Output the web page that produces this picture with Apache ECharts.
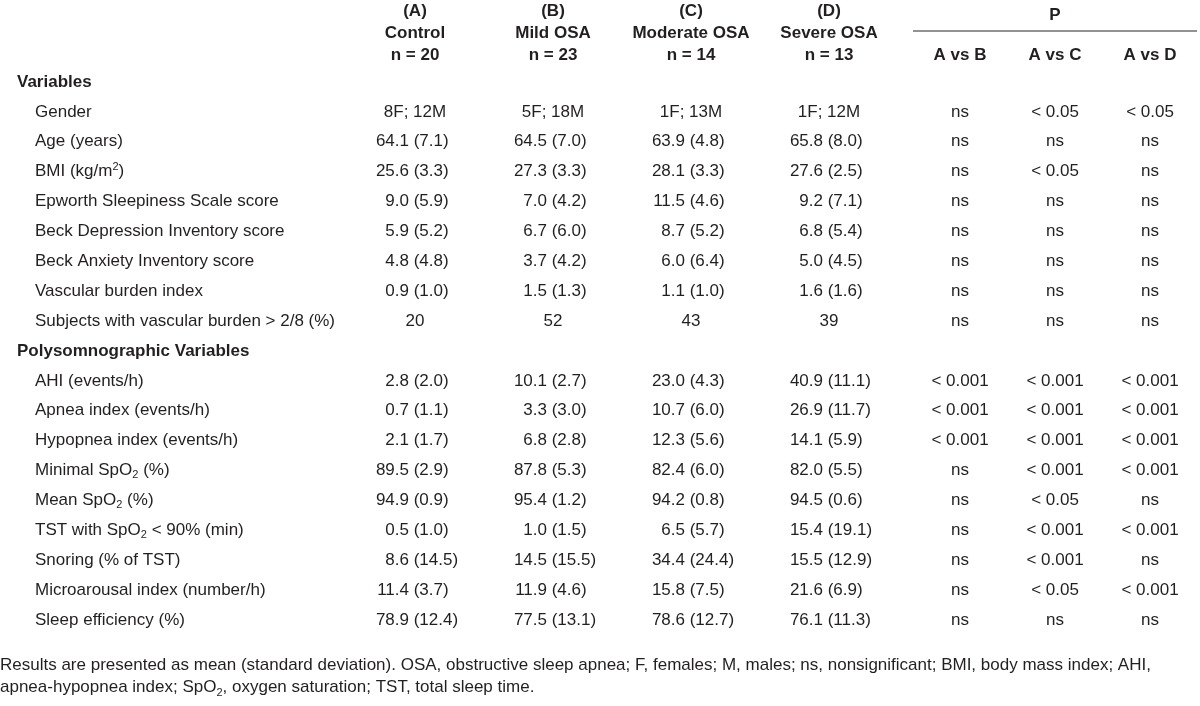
<!DOCTYPE html>
<html>
<head>
<meta charset="utf-8">
<script src="https://cdn.jsdelivr.net/npm/echarts@6/dist/echarts.min.js"></script>
<style>
html,body{margin:0;padding:0;background:#fff;}
#chart{width:1200px;height:706px;}
</style>
</head>
<body>
<div id="chart"></div>
<script>
// ---------- DATA ----------
const groupLetters = ['(A)', '(B)', '(C)', '(D)'];
const groupNames = ['Control', 'Mild OSA', 'Moderate OSA', 'Severe OSA'];
const groupSizes = ['n = 20', 'n = 23', 'n = 14', 'n = 13'];
const pTitle = 'P';
const pComparisons = ['A vs B', 'A vs C', 'A vs D'];

const sectionTitles = ['Variables', 'Polysomnographic Variables'];
const generalVariables = [
  'Gender', 'Age (years)', 'BMI (kg/m{sup|2})', 'Epworth Sleepiness Scale score',
  'Beck Depression Inventory score', 'Beck Anxiety Inventory score',
  'Vascular burden index', 'Subjects with vascular burden > 2/8 (%)'
];
const polyVariables = [
  'AHI (events/h)', 'Apnea index (events/h)', 'Hypopnea index (events/h)',
  'Minimal SpO{sub|2} (%)', 'Mean SpO{sub|2} (%)', 'TST with SpO{sub|2} < 90% (min)',
  'Snoring (% of TST)', 'Microarousal index (number/h)', 'Sleep efficiency (%)'
];

const controlValues = ['8F; 12M', '64.1 (7.1)', '25.6 (3.3)', '9.0 (5.9)', '5.9 (5.2)', '4.8 (4.8)', '0.9 (1.0)', '20',
  '2.8 (2.0)', '0.7 (1.1)', '2.1 (1.7)', '89.5 (2.9)', '94.9 (0.9)', '0.5 (1.0)', '8.6 (14.5)', '11.4 (3.7)', '78.9 (12.4)'];
const mildValues = ['5F; 18M', '64.5 (7.0)', '27.3 (3.3)', '7.0 (4.2)', '6.7 (6.0)', '3.7 (4.2)', '1.5 (1.3)', '52',
  '10.1 (2.7)', '3.3 (3.0)', '6.8 (2.8)', '87.8 (5.3)', '95.4 (1.2)', '1.0 (1.5)', '14.5 (15.5)', '11.9 (4.6)', '77.5 (13.1)'];
const moderateValues = ['1F; 13M', '63.9 (4.8)', '28.1 (3.3)', '11.5 (4.6)', '8.7 (5.2)', '6.0 (6.4)', '1.1 (1.0)', '43',
  '23.0 (4.3)', '10.7 (6.0)', '12.3 (5.6)', '82.4 (6.0)', '94.2 (0.8)', '6.5 (5.7)', '34.4 (24.4)', '15.8 (7.5)', '78.6 (12.7)'];
const severeValues = ['1F; 12M', '65.8 (8.0)', '27.6 (2.5)', '9.2 (7.1)', '6.8 (5.4)', '5.0 (4.5)', '1.6 (1.6)', '39',
  '40.9 (11.1)', '26.9 (11.7)', '14.1 (5.9)', '82.0 (5.5)', '94.5 (0.6)', '15.4 (19.1)', '15.5 (12.9)', '21.6 (6.9)', '76.1 (11.3)'];
const pAvsB = ['ns', 'ns', 'ns', 'ns', 'ns', 'ns', 'ns', 'ns',
  '< 0.001', '< 0.001', '< 0.001', 'ns', 'ns', 'ns', 'ns', 'ns', 'ns'];
const pAvsC = ['< 0.05', 'ns', '< 0.05', 'ns', 'ns', 'ns', 'ns', 'ns',
  '< 0.001', '< 0.001', '< 0.001', '< 0.001', '< 0.05', '< 0.001', '< 0.001', '< 0.05', 'ns'];
const pAvsD = ['< 0.05', 'ns', 'ns', 'ns', 'ns', 'ns', 'ns', 'ns',
  '< 0.001', '< 0.001', '< 0.001', '< 0.001', 'ns', '< 0.001', 'ns', '< 0.001', 'ns'];

const footnote = 'Results are presented as mean (standard deviation). OSA, obstructive sleep apnea; F, females; M, males; ns, nonsignificant; BMI, body mass index; AHI,\n' +
  'apnea-hypopnea index; SpO{sub|2}, oxygen saturation; TST, total sleep time.';

// ---------- LAYOUT / STYLE ----------
const FONT = '"Liberation Sans", Arial, Helvetica, sans-serif';
const FS = 17;
const TEXT = '#231f20';
const groupCenters = [415, 553, 691, 829];   // x centres of group columns
const pCenters = [960, 1055, 1150];          // x centres of P columns
const sectionX = 17, varX = 35;
const headerY = [11, 33, 55];
const pTitleY = 15, pLineY = 31, pLineX = [913, 1197];
const richSS = {
  sup: { fontSize: 11, lineHeight: 11, verticalAlign: 'top', fontFamily: FONT, fill: TEXT, color: TEXT },
  sub: { fontSize: 11, lineHeight: 11, verticalAlign: 'bottom', fontFamily: FONT, fill: TEXT, color: TEXT }
};

// ---------- BUILD TABLE ----------
const rowKeys = [sectionTitles[0], ...generalVariables, sectionTitles[1], ...polyVariables];
const groupCols = [controlValues, mildValues, moderateValues, severeValues];
const pCols = [pAvsB, pAvsC, pAvsD];

// map row index -> value index
const valueIndexOfRow = [];
let vi = 0;
rowKeys.forEach((k) => {
  if (sectionTitles.includes(k)) valueIndexOfRow.push(-1);
  else valueIndexOfRow.push(vi++);
});

// custom-series data: [columnKind, rowIndex, colIndex]
const cellData = [];
rowKeys.forEach((k, r) => {
  cellData.push({ value: [0, r], kind: 'label', col: -1 });
  if (valueIndexOfRow[r] < 0) return;
  groupCols.forEach((g, c) => cellData.push({ value: [groupCenters[c], r], kind: 'group', col: c }));
  pCols.forEach((g, c) => cellData.push({ value: [pCenters[c], r], kind: 'p', col: c }));
});

function textEl(x, y, text, align, bold) {
  return {
    type: 'text',
    style: {
      x: x, y: y, text: text,
      fontFamily: FONT, fontSize: FS, fontWeight: bold ? 'bold' : 'normal',
      lineHeight: 20,
      fill: TEXT,
      align: align, textAlign: align,
      verticalAlign: 'middle', textVerticalAlign: 'middle',
      rich: richSS
    }
  };
}

function renderCell(params, api) {
  const item = cellData[params.dataIndex];
  const r = api.value(1);
  const key = rowKeys[r];
  const yPix = api.coord([0, r])[1];
  if (item.kind === 'label') {
    const isSection = sectionTitles.includes(key);
    const x = api.coord([isSection ? sectionX : varX, r])[0];
    return textEl(x, yPix, key, 'left', isSection);
  }
  const v = valueIndexOfRow[r];
  const cx = api.coord([api.value(0), r])[0];
  if (item.kind === 'p') {
    return textEl(cx, yPix, pCols[item.col][v], 'center', false);
  }
  const txt = groupCols[item.col][v];
  const m = txt.match(/^(\S+) (\(.*\))$/);
  if (m) {
    // decimal-style alignment: mean right-aligned, (SD) left-aligned
    const anchor = cx - 6;
    return {
      type: 'group',
      children: [
        textEl(anchor, yPix, m[1], 'right', false),
        textEl(anchor + 4.7, yPix, m[2], 'left', false)
      ]
    };
  }
  return textEl(cx, yPix, txt, 'center', false);
}

// header & footnote graphics
const graphics = [];
function gText(x, y, text, align, bold, extra) {
  return Object.assign({
    type: 'text', x: x, y: y, silent: true,
    style: {
      text: text, fontFamily: FONT, fontSize: FS, fontWeight: bold ? 'bold' : 'normal',
      fill: TEXT, align: align, textAlign: align,
      verticalAlign: 'middle', textVerticalAlign: 'middle', rich: richSS
    }
  }, extra || {});
}
groupCenters.forEach((cx, i) => {
  graphics.push(gText(cx, headerY[0], groupLetters[i], 'center', true));
  graphics.push(gText(cx, headerY[1], groupNames[i], 'center', true));
  graphics.push(gText(cx, headerY[2], groupSizes[i], 'center', true));
});
graphics.push(gText((pLineX[0] + pLineX[1]) / 2, pTitleY, pTitle, 'center', true));
graphics.push({
  type: 'line', silent: true,
  shape: { x1: pLineX[0], y1: pLineY, x2: pLineX[1], y2: pLineY },
  style: { stroke: '#6d6e71', lineWidth: 1.5 }
});
pCenters.forEach((cx, i) => graphics.push(gText(cx, headerY[2], pComparisons[i], 'center', true)));
graphics.push({
  type: 'text', x: 0, y: 654, silent: true,
  style: {
    text: footnote, fontFamily: FONT, fontSize: FS, fill: TEXT, lineHeight: 22,
    align: 'left', textAlign: 'left', verticalAlign: 'top', textVerticalAlign: 'top', rich: {
      sub: { fontSize: 11, lineHeight: 11, verticalAlign: 'bottom', fontFamily: FONT, fill: TEXT }
    }
  }
});

const chart = echarts.init(document.getElementById('chart'), null, { renderer: 'canvas' });
chart.setOption({
  backgroundColor: '#ffffff',
  animation: false,
  grid: { left: 0, right: 0, top: 67, bottom: 71 },
  xAxis: { type: 'value', min: 0, max: 1200, show: false },
  yAxis: { type: 'category', data: rowKeys, inverse: true, show: false },
  graphic: graphics,
  series: [{
    type: 'custom',
    coordinateSystem: 'cartesian2d',
    renderItem: renderCell,
    data: cellData,
    silent: true,
    clip: false
  }]
});
</script>
</body>
</html>
